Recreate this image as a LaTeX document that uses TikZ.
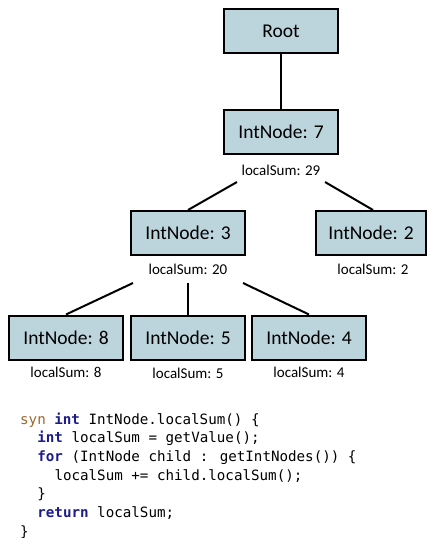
\documentclass[tikz,border=0pt]{standalone}
\usepackage{fontspec}
\newfontfamily\carl{Carlito}
\newfontfamily\codefont{DejaVu Sans Mono}
\definecolor{boxfill}{RGB}{188,212,220}
\definecolor{synclr}{RGB}{160,102,40}
\definecolor{kwclr}{RGB}{28,28,140}
\newcommand{\kw}[1]{\textcolor{kwclr}{\bfseries #1}}
\begin{document}
\begin{tikzpicture}[x=1pt,y=-1pt,
  treebox/.style={draw=black,line width=2pt,fill=boxfill,minimum width=114pt,minimum height=44pt,inner sep=0pt,font=\carl\fontsize{19.5}{22}\selectfont},
  sumlabel/.style={anchor=base,inner sep=0pt,font=\carl\fontsize{15}{17}\selectfont},
  codeline/.style={anchor=base west,inner sep=0pt,font=\codefont\fontsize{14.2}{18}\selectfont},
  edge/.style={line width=2pt}]
\useasboundingbox (0,0) rectangle (426,538);
% tree nodes
\node[treebox] (root) at (281,31) {Root};
\node[treebox] (n7) at (281,132) {IntNode: 7};
\node[treebox] (n3) at (188,233) {IntNode: 3};
\node[treebox,minimum width=110pt] (n2) at (371,233) {IntNode: 2};
\node[treebox] (n8) at (66,337.5) {IntNode: 8};
\node[treebox] (n5) at (188,337.5) {IntNode: 5};
\node[treebox] (n4) at (309,337.5) {IntNode: 4};
% labels
\node[sumlabel] (s7) at (281,175) {localSum: 29};
\node[sumlabel] (s3) at (188,274) {localSum: 20};
\node[sumlabel] (s2) at (373,274) {localSum: 2};
\node[sumlabel] (s8) at (66,377.5) {localSum: 8};
\node[sumlabel] (s5) at (188,378.5) {localSum: 5};
\node[sumlabel] (s4) at (309,377.5) {localSum: 4};
% connector start points
\coordinate (c73) at (237,182);
\coordinate (c72) at (325,182);
\coordinate (c38) at (133,283);
\coordinate (c35) at (188,283);
\coordinate (c34) at (243,283);
% connectors
\draw[edge] (root.south) -- (n7.north);
\draw[edge] (c73) -- (n3.north);
\draw[edge] (c72) -- (n2.north -| 373,0);
\draw[edge] (c38) -- (n8.north);
\draw[edge] (c35) -- (n5.north);
\draw[edge] (c34) -- (n4.north);
% code
\node[codeline] (l1) at (20,424) {\textcolor{synclr}{syn} \kw{int} IntNode.localSum() \{};
\node[codeline] (l2) at (37.2,442.7) {\kw{int} localSum = getValue();};
\node[codeline] (l3) at (37.2,461.4) {\kw{for} (IntNode child : getIntNodes()) \{};
\node[codeline] (l4) at (54.3,480.1) {localSum += child.localSum();};
\node[codeline] (l5) at (37.2,498.8) {\}};
\node[codeline] (l6) at (37.2,517.5) {\kw{return} localSum;};
\node[codeline] (l7) at (20,536) {\}};
\end{tikzpicture}
\end{document}
